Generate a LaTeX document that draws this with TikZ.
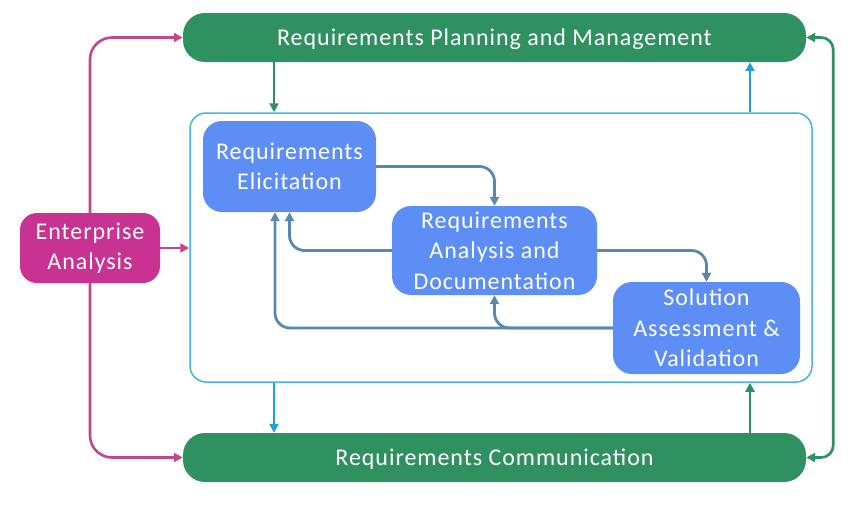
\documentclass[tikz,border=0pt]{standalone}
\usepackage{fontspec}
\setmainfont{Carlito}[LetterSpace=4.0]
\usetikzlibrary{arrows.meta}
\definecolor{pgreen}{RGB}{47,145,95}
\definecolor{pmag}{RGB}{200,50,145}
\definecolor{pmagline}{RGB}{195,70,145}
\definecolor{pblue}{RGB}{92,142,245}
\definecolor{pline}{RGB}{88,136,176}
\definecolor{pcyan}{RGB}{70,182,218}
\definecolor{pcyanarr}{RGB}{30,160,214}
\tikzset{
  x=1pt, y=-1pt,
  every node/.style={font=\fontsize{24}{30.5}\selectfont, text=white, align=center, inner sep=0pt},
  bar/.style={fill=pgreen, rounded corners=22pt, minimum width=623pt, minimum height=49pt, text depth=0pt},
  proc/.style={fill=pblue, rounded corners=19pt},
  ent/.style={fill=pmag, rounded corners=17pt, minimum width=140pt, minimum height=70pt},
  tip/.style={-{Triangle[length=9pt,width=9pt]}},
  magarr/.style={draw=pmagline, line width=2.6pt, tip, rounded corners=22pt},
  grnarr/.style={draw=pgreen, line width=2.6pt, tip},
  cyanarr/.style={draw=pcyanarr, line width=2.6pt, tip},
  flow/.style={draw=pline, line width=2.8pt, tip, rounded corners=15pt},
}
\begin{document}
\begin{tikzpicture}
\useasboundingbox (0,0) rectangle (862,506);
\fill[white] (0,0) rectangle (862,506);

% container
\node[draw=pcyan, line width=1.5pt, rounded corners=16pt, minimum width=622pt, minimum height=269pt] (cont) at (501,247.5) {};

% bars
\node[bar] (top) at (494.5,37.5) {Requirements Planning and Management};
\node[bar] (bot) at (494.5,457.5) {Requirements Communication};

% enterprise
\node[ent] (ent) at (90,248) {Enterprise\\Analysis};

% process boxes
\node[proc, minimum width=173pt, minimum height=91pt] (eli) at (289.5,166.5) {Requirements\\Elicitation};
\node[proc, minimum width=205pt, minimum height=89pt] (ana) at (494.5,250.5) {Requirements\\Analysis and\\Documentation};
\node[proc, minimum width=187pt, minimum height=92pt] (sol) at (706.5,328) {Solution\\Assessment \&\\Validation};

% helper coordinates
\coordinate (c1) at (274,0);
\coordinate (c2) at (750,0);
\coordinate (c3) at (275,0);

% magenta connectors
\draw[magarr] (ent.north) |- (top.west);
\draw[magarr] (ent.south) |- (bot.west);
\draw[magarr] (ent.east) -- (ent.east -| cont.west);

% green / cyan connectors
\draw[grnarr] (top.south -| c1) -- (cont.north -| c1);
\draw[cyanarr] (cont.north -| c2) -- (top.south -| c2);
\draw[cyanarr] (cont.south -| c1) -- (bot.north -| c1);
\draw[grnarr] (bot.north -| c2) -- (cont.south -| c2);
\draw[draw=pgreen, line width=2.6pt, {Triangle[length=9pt,width=9pt]}-{Triangle[length=9pt,width=9pt]}, rounded corners=12pt]
  (top.east) -- ++(27,0) |- (bot.east);

% inner flow
\draw[flow] (eli.east) -| (ana.north);
\draw[flow] (ana.east) -| (sol.north);
\draw[flow] (ana.west) -| (eli.south);
\draw[flow] (sol.west) -| (ana.south);
\draw[flow] (sol.west) -| (eli.south -| c3);
\end{tikzpicture}
\end{document}
